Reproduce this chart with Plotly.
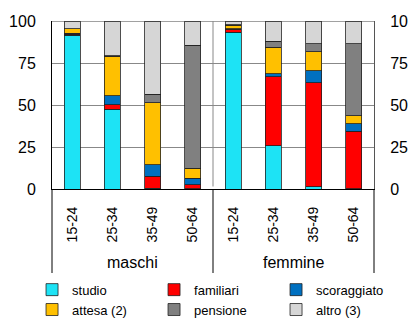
import plotly.graph_objects as go

categories = ["15-24", "25-34", "35-49", "50-64", "15-24", "25-34", "35-49", "50-64"]
groups = ["maschi", "femmine"]
series_names = ["studio", "familiari", "scoraggiato", "attesa (2)", "pensione", "altro (3)"]

studio      = [91.6, 47.4, 0.5, 0.2, 93.2, 25.7, 1.2, 0.3]
familiari   = [0.6, 2.8, 7.0, 2.2, 1.8, 41.1, 62.0, 34.1]
scoraggiato = [0.4, 5.3, 6.9, 4.1, 0.5, 1.8, 7.2, 4.3]
attesa      = [2.7, 23.4, 37.0, 6.0, 2.0, 15.8, 11.2, 4.8]
pensione    = [0.0, 0.3, 4.9, 73.1, 0.3, 3.5, 5.0, 42.9]
altro       = [4.7, 20.8, 43.7, 14.4, 2.2, 12.1, 13.4, 13.6]

y_ticks = [0, 25, 50, 75, 100]

series = [studio, familiari, scoraggiato, attesa, pensione, altro]
colors = ["#1DE3F5", "#FF0000", "#0070C0", "#FFC000", "#808080", "#D6D6D6"]

FONT = "Liberation Sans, Arial, sans-serif"
x = list(range(len(categories)))

fig = go.Figure()
for name, vals, col in zip(series_names, series, colors):
    fig.add_trace(go.Bar(
        x=x, y=vals, name=name, width=0.4,
        marker=dict(color=col, line=dict(color="#222222", width=0.8)),
    ))

# invisible trace to activate right axis
fig.add_trace(go.Scatter(x=[0], y=[0], yaxis="y2", mode="markers",
                         marker=dict(opacity=0), showlegend=False, hoverinfo="skip"))

# page body has an 8px margin, so the figure is sized/positioned to compensate
fig.update_layout(
    width=408, height=310,
    margin=dict(l=44, r=42, t=13, b=129, autoexpand=False),
    barmode="stack",
    plot_bgcolor="white", paper_bgcolor="white",
    font=dict(family=FONT, color="black", size=14),
    showlegend=True,
    legend=dict(
        orientation="h", x=-0.062, y=-0.51, xanchor="left", yanchor="top",
        entrywidth=77, entrywidthmode="pixels",
        itemwidth=30, tracegroupgap=0,
        font=dict(size=13, family=FONT), traceorder="normal",
        bgcolor="rgba(0,0,0,0)",
    ),
    xaxis=dict(
        range=[-0.5, 7.5], tickvals=x, ticktext=categories, tickangle=-90,
        showgrid=False, zeroline=False, showline=True, linecolor="black", linewidth=1,
        tickfont=dict(size=14, family=FONT), ticks="", ticklabelstandoff=11,
    ),
    yaxis=dict(
        range=[0, 100], tickvals=y_ticks, showgrid=True, gridcolor="#888888", gridwidth=1,
        zeroline=False, showline=True, linecolor="black", linewidth=1,
        tickfont=dict(size=16, family=FONT), ticks="", ticklabelstandoff=12,
    ),
    yaxis2=dict(
        range=[0, 100], tickvals=y_ticks, overlaying="y", side="right",
        showgrid=False, zeroline=False, showline=True, linecolor="#555555", linewidth=1,
        tickfont=dict(size=16, family=FONT), ticks="", ticklabelstandoff=12,
    ),
)

# top border
fig.add_shape(type="line", xref="paper", yref="y", x0=0, x1=1, y0=100, y1=100,
              line=dict(color="#444444", width=1))
# divider in plot area
fig.add_shape(type="line", xref="x", yref="y", x0=3.5, x1=3.5, y0=1.5, y1=100,
              line=dict(color="#888888", width=1))
# group dividers below axis
for xv in [0, 0.5, 1]:
    fig.add_shape(type="line", xref="paper", yref="paper", x0=xv, x1=xv, y0=0, y1=-0.5,
                  line=dict(color="black", width=1))

for gi, g in enumerate(groups):
    fig.add_annotation(text=g, xref="paper", yref="paper", x=0.25 + 0.5 * gi, y=-0.44,
                       xanchor="center", yanchor="middle", showarrow=False,
                       font=dict(size=16, family=FONT))

fig.write_html("out.html")
